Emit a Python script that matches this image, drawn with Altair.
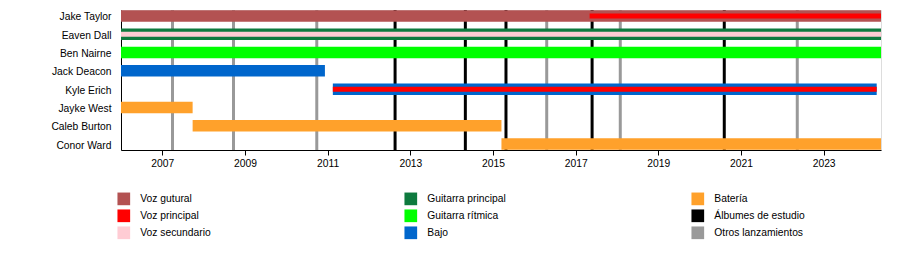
import altair as alt
import pandas as pd
from datetime import date

# ---------------- data ----------------
members = ["Jake Taylor", "Eaven Dall", "Ben Nairne", "Jack Deacon",
           "Kyle Erich", "Jayke West", "Caleb Burton", "Conor Ward"]

roles = ["Voz gutural", "Voz principal", "Voz secundario",
         "Guitarra principal", "Guitarra rítmica", "Bajo",
         "Batería", "Álbumes de estudio", "Otros lanzamientos"]
role_colors = ["#B35252", "#FF0000", "#FFCCD4",
               "#0E7A3E", "#00FF00", "#0066CC",
               "#FFA12B", "#000000", "#999999"]

period_start = "2006-01-01"
period_end = "2024-05-22"

# main role of each member (full-height bars)
main_member = ["Jake Taylor", "Eaven Dall", "Ben Nairne", "Jack Deacon",
               "Kyle Erich", "Jayke West", "Caleb Burton", "Conor Ward"]
main_role = ["Voz gutural", "Guitarra principal", "Guitarra rítmica", "Bajo",
             "Bajo", "Batería", "Batería", "Batería"]
main_start = ["2006-01-01", "2006-01-01", "2006-01-01", "2006-01-01",
              "2011-02-16", "2006-01-01", "2007-09-26", "2015-03-17"]
main_end = ["2024-05-22", "2024-05-22", "2024-05-22", "2010-12-08",
            "2024-04-14", "2007-09-26", "2015-03-17", "2024-05-22"]

# secondary roles (thin bars over the main ones)
second_member = ["Jake Taylor", "Eaven Dall", "Kyle Erich"]
second_role = ["Voz principal", "Voz secundario", "Voz principal"]
second_start = ["2017-05-04", "2006-01-01", "2011-02-16"]
second_end = ["2024-05-22", "2024-05-22", "2024-04-14"]

# releases
studio_albums = ["2012-08-19", "2014-05-02", "2015-04-26", "2017-05-26", "2020-08-06"]
other_releases = ["2007-04-01", "2008-09-21", "2010-09-27", "2016-04-20",
                  "2018-01-30", "2022-05-13"]

tick_years = [2007, 2009, 2011, 2013, 2015, 2017, 2019, 2021, 2023]

# ---------------- tables ----------------
df_main = pd.DataFrame({"member": main_member, "role": main_role,
                        "start": main_start, "end": main_end})
df_second = pd.DataFrame({"member": second_member, "role": second_role,
                          "start": second_start, "end": second_end})
df_album = pd.DataFrame({"date": studio_albums})
df_other = pd.DataFrame({"date": other_releases})


def to_dt(s):
    d = date.fromisoformat(s)
    return alt.DateTime(year=d.year, month=d.month, date=d.day, utc=True)


FONT = "Liberation Sans"
FS = 10.3

x_scale = alt.Scale(type="utc", domain=[to_dt(period_start), to_dt(period_end)])
x_axis = alt.Axis(title=None, values=[alt.DateTime(year=y, month=1, date=1, utc=True) for y in tick_years],
                  format="%Y", formatType="utc", grid=False, tickSize=5, tickColor="black",
                  domainColor="black", labelColor="black", labelFontSize=FS, labelFont=FONT,
                  labelPadding=3, labelOverlap=False)
y_scale = alt.Scale(paddingInner=0.37, paddingOuter=0.012)
y_axis = alt.Axis(title=None, ticks=False, labelPadding=10, labelOffset=1.5, labelFontSize=FS,
                  labelFont=FONT, labelColor="black", domainColor="black", grid=False)
color_scale = alt.Scale(domain=roles, range=role_colors)

legend = alt.Legend(title=None, orient="none", legendX=-3.7, legendY=182.3, columns=3,
                    values=roles, symbolType="square", symbolSize=161,
                    symbolStrokeWidth=0, symbolOpacity=1, labelFontSize=FS, labelFont=FONT,
                    labelColor="black", labelOffset=10, rowPadding=4, columnPadding=173,
                    gridAlign="all", padding=0, labelLimit=300)

album_color = role_colors[roles.index("Álbumes de estudio")]
other_color = role_colors[roles.index("Otros lanzamientos")]

rules_album = alt.Chart(df_album).mark_rule(strokeWidth=3, color=album_color).encode(
    x=alt.X("date:T", scale=x_scale, axis=x_axis),
)
rules_other = alt.Chart(df_other).mark_rule(strokeWidth=3, color=other_color).encode(
    x=alt.X("date:T", scale=x_scale, axis=x_axis),
)

bars = alt.Chart(df_main).mark_bar().encode(
    x=alt.X("start:T", scale=x_scale, axis=x_axis),
    x2="end:T",
    y=alt.Y("member:N", sort=members, scale=y_scale, axis=y_axis),
    color=alt.Color("role:N", scale=color_scale, legend=legend),
)

stripes = alt.Chart(df_second).mark_bar(size=5).encode(
    x=alt.X("start:T", scale=x_scale, axis=x_axis),
    x2="end:T",
    y=alt.Y("member:N", sort=members, scale=y_scale, axis=y_axis),
    color=alt.Color("role:N", scale=color_scale, legend=legend),
)

chart = alt.layer(rules_other, rules_album, bars, stripes).properties(
    width=760, height=140,
    padding={"left": 121, "top": 10, "right": 19, "bottom": 120},
    autosize=alt.AutoSizeParams(type="none"),
    background="white",
).configure_view(stroke=None).configure(font=FONT)

chart.save("out.html", embed_options={"renderer": "svg", "actions": False})
